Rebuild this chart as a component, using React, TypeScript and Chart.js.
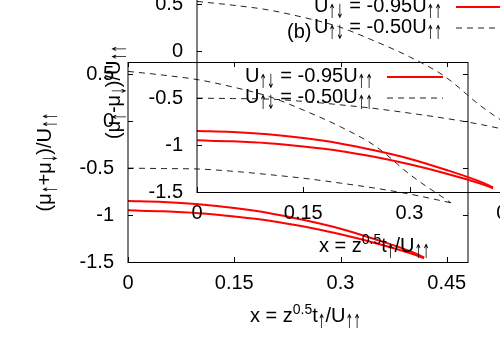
import React, { useEffect, useRef } from 'react';
import { Chart, registerables } from 'chart.js';

Chart.register(...registerables);

// ---- data ----
const xRed = [0, 0.05, 0.1, 0.15, 0.2, 0.25, 0.3, 0.35, 0.4, 0.418];
const yRedUpper = [-0.85, -0.86, -0.885, -0.925, -0.98, -1.055, -1.145, -1.26, -1.39, -1.45];
const yRedLower = [-0.95, -0.96, -0.98, -1.015, -1.06, -1.125, -1.205, -1.3, -1.41, -1.46];
const xDash = [0, 0.05, 0.1, 0.15, 0.2, 0.25, 0.3, 0.35, 0.4, 0.456];
const yDashUpper = [0.53, 0.49, 0.44, 0.36, 0.26, 0.11, -0.06, -0.27, -0.58, -0.87];
const yDashLower = [-0.5, -0.505, -0.51, -0.535, -0.57, -0.61, -0.66, -0.715, -0.78, -0.87];
const xTicks = [0, 0.15, 0.3, 0.45];
const yTicks = [-1.5, -1, -0.5, 0, 0.5];
const xRange = [0, 0.48];
const yRange = [-1.5, 0.63];
const legendValues = ['-0.95', '-0.50'];

// ---- styling ----
const FONT = '"Liberation Sans", Arial, Helvetica, sans-serif';
const ARROW_FONT = '"DejaVu Sans", sans-serif';
const MAIN = 20;
const SMALL = 14;
const ARROW = 23;
const ARROW_SX = 0.4;
const RED = 'rgb(255,0,0)';
const DASH = [6, 5];

type Seg = { t: string; s?: 'sub' | 'sup'; a?: boolean };

const xTitle: Seg[] = [
  { t: 'x = z' }, { t: '0.5', s: 'sup' }, { t: 't' }, { t: '↑', s: 'sub', a: true }, { t: '/U' }, { t: '↑↑', s: 'sub', a: true },
];
const yTitleSum: Seg[] = [
  { t: '(μ' }, { t: '↑', s: 'sub', a: true }, { t: '+μ' }, { t: '↓', s: 'sub', a: true }, { t: ')/U' }, { t: '↑↑', s: 'sub', a: true },
];
const yTitleDiff: Seg[] = [
  { t: '(μ' }, { t: '↑', s: 'sub', a: true }, { t: '-μ' }, { t: '↓', s: 'sub', a: true }, { t: ')/U' }, { t: '↑↑', s: 'sub', a: true },
];
const legendSegs = (v: string): Seg[] => [
  { t: 'U' }, { t: '↑↓', s: 'sub', a: true }, { t: ' = ' + v + 'U' }, { t: '↑↑', s: 'sub', a: true },
];

function segFont(s: Seg) {
  if (s.a) return `${ARROW}px ${ARROW_FONT}`;
  return `${s.s ? SMALL : MAIN}px ${FONT}`;
}
function segWidth(ctx: CanvasRenderingContext2D, s: Seg) {
  ctx.font = segFont(s);
  const w = ctx.measureText(s.t).width;
  return s.a ? w * ARROW_SX : w;
}
function richWidth(ctx: CanvasRenderingContext2D, segs: Seg[]) {
  let w = 0;
  for (const s of segs) w += segWidth(ctx, s);
  return w;
}
function drawRich(ctx: CanvasRenderingContext2D, segs: Seg[], x: number, y: number, align: 'left' | 'center' | 'right') {
  const w = richWidth(ctx, segs);
  let cx = align === 'left' ? x : align === 'center' ? x - w / 2 : x - w;
  ctx.textAlign = 'left';
  ctx.textBaseline = 'alphabetic';
  ctx.fillStyle = '#000';
  for (const s of segs) {
    const sw = segWidth(ctx, s);
    ctx.font = segFont(s);
    const dy = s.a ? 6 : s.s === 'sub' ? 5 : s.s === 'sup' ? -8 : 0;
    if (s.a) {
      ctx.save();
      ctx.translate(cx, y + dy);
      ctx.scale(ARROW_SX, 0.85);
      ctx.fillText(s.t, 0, 0);
      ctx.restore();
    } else {
      ctx.fillText(s.t, cx, y + dy);
    }
    cx += sw;
  }
}

const pts = (xs: number[], ys: number[]) => xs.map((x, i) => ({ x, y: ys[i] }));

function makeConfig(yTitle: Seg[], tag?: string): any {
  const decor = {
    id: 'gnuDecor',
    afterDraw(chart: any) {
      const ctx: CanvasRenderingContext2D = chart.ctx;
      const { left, right, top, bottom } = chart.chartArea;
      const xs = chart.scales.x;
      const ys = chart.scales.y;
      ctx.save();
      ctx.strokeStyle = '#000';
      ctx.lineWidth = 1;
      ctx.setLineDash([]);
      ctx.strokeRect(left, top + 0.5, right - left, bottom - top);
      ctx.beginPath();
      for (const v of xTicks) {
        const p = Math.round(xs.getPixelForValue(v)) + 0.5;
        ctx.moveTo(p, bottom); ctx.lineTo(p, bottom - 5);
        ctx.moveTo(p, top); ctx.lineTo(p, top + 5);
      }
      for (const v of yTicks) {
        const p = Math.round(ys.getPixelForValue(v)) + 0.5;
        ctx.moveTo(left, p); ctx.lineTo(left + 5, p);
        ctx.moveTo(right, p); ctx.lineTo(right - 5, p);
      }
      ctx.stroke();

      // axis titles
      drawRich(ctx, xTitle, left + 122, bottom + 60, 'left');
      ctx.save();
      ctx.translate(left - 77, (top + bottom) / 2);
      ctx.rotate(-Math.PI / 2);
      drawRich(ctx, yTitle, 0, 0, 'center');
      ctx.restore();

      // legend
      const ds = chart.data.datasets;
      const styles = [ds[0], ds[2]];
      legendValues.forEach((v, i) => {
        const base = top + 20 + i * 21;
        drawRich(ctx, legendSegs(v), right - 95, base, 'right');
        const st = styles[i];
        ctx.beginPath();
        ctx.strokeStyle = st.borderColor;
        ctx.lineWidth = st.borderWidth;
        ctx.setLineDash(st.borderDash || []);
        ctx.moveTo(right - 81, base - 5);
        ctx.lineTo(right - 25, base - 5);
        ctx.stroke();
      });
      ctx.setLineDash([]);

      if (tag) {
        ctx.font = `${MAIN}px ${FONT}`;
        ctx.fillStyle = '#000';
        ctx.textAlign = 'left';
        ctx.textBaseline = 'alphabetic';
        ctx.fillText(tag, left + 90, top + 46);
      }
      ctx.restore();
    },
  };

  const tickFont = { family: FONT, size: MAIN };
  return {
    type: 'line',
    data: {
      datasets: [
        { data: pts(xRed, yRedUpper), borderColor: RED, borderWidth: 2, pointRadius: 0, cubicInterpolationMode: 'monotone', fill: false },
        { data: pts(xRed, yRedLower), borderColor: RED, borderWidth: 2, pointRadius: 0, cubicInterpolationMode: 'monotone', fill: false },
        { data: pts(xDash, yDashUpper), borderColor: '#222', borderWidth: 1, borderDash: DASH, pointRadius: 0, cubicInterpolationMode: 'monotone', fill: false },
        { data: pts(xDash, yDashLower), borderColor: '#222', borderWidth: 1, borderDash: DASH, pointRadius: 0, cubicInterpolationMode: 'monotone', fill: false },
      ],
    },
    options: {
      animation: false,
      responsive: false,
      events: [],
      layout: { padding: { top: 62, right: 32, left: 0, bottom: 0 } },
      plugins: { legend: { display: false }, tooltip: { enabled: false } },
      scales: {
        x: {
          type: 'linear',
          min: xRange[0],
          max: xRange[1],
          grid: { display: false, drawTicks: false },
          border: { display: false },
          ticks: { padding: 9, font: tickFont, color: '#000', maxRotation: 0, autoSkip: false, callback: (v: number) => String(v) },
          afterBuildTicks: (s: any) => { s.ticks = xTicks.map((value) => ({ value })); },
          afterFit: (s: any) => { s.height = 88; },
        },
        y: {
          type: 'linear',
          min: yRange[0],
          max: yRange[1],
          grid: { display: false, drawTicks: false },
          border: { display: false },
          ticks: { padding: 14, font: tickFont, color: '#000', autoSkip: false, callback: (v: number) => String(v) },
          afterBuildTicks: (s: any) => { s.ticks = yTicks.map((value) => ({ value })); },
          afterFit: (s: any) => { s.width = 128; },
        },
      },
    },
    plugins: [decor],
  };
}

function GnuChart({ yTitle, tag, left, top }: { yTitle: Seg[]; tag?: string; left: number; top: number }) {
  const ref = useRef<HTMLCanvasElement>(null);
  useEffect(() => {
    const chart = new Chart(ref.current as HTMLCanvasElement, makeConfig(yTitle, tag));
    return () => chart.destroy();
  }, []);
  return (
    <canvas
      ref={ref}
      width={500}
      height={350}
      style={{ position: 'absolute', left, top, width: 500, height: 350 }}
    />
  );
}

export default function App() {
  return (
    <div style={{ position: 'fixed', left: 0, top: 0, width: 500, height: 350, overflow: 'hidden', background: '#fff' }}>
      <GnuChart yTitle={yTitleSum} left={0} top={0} />
      <GnuChart yTitle={yTitleDiff} tag="(b)" left={69} top={-70} />
    </div>
  );
}
